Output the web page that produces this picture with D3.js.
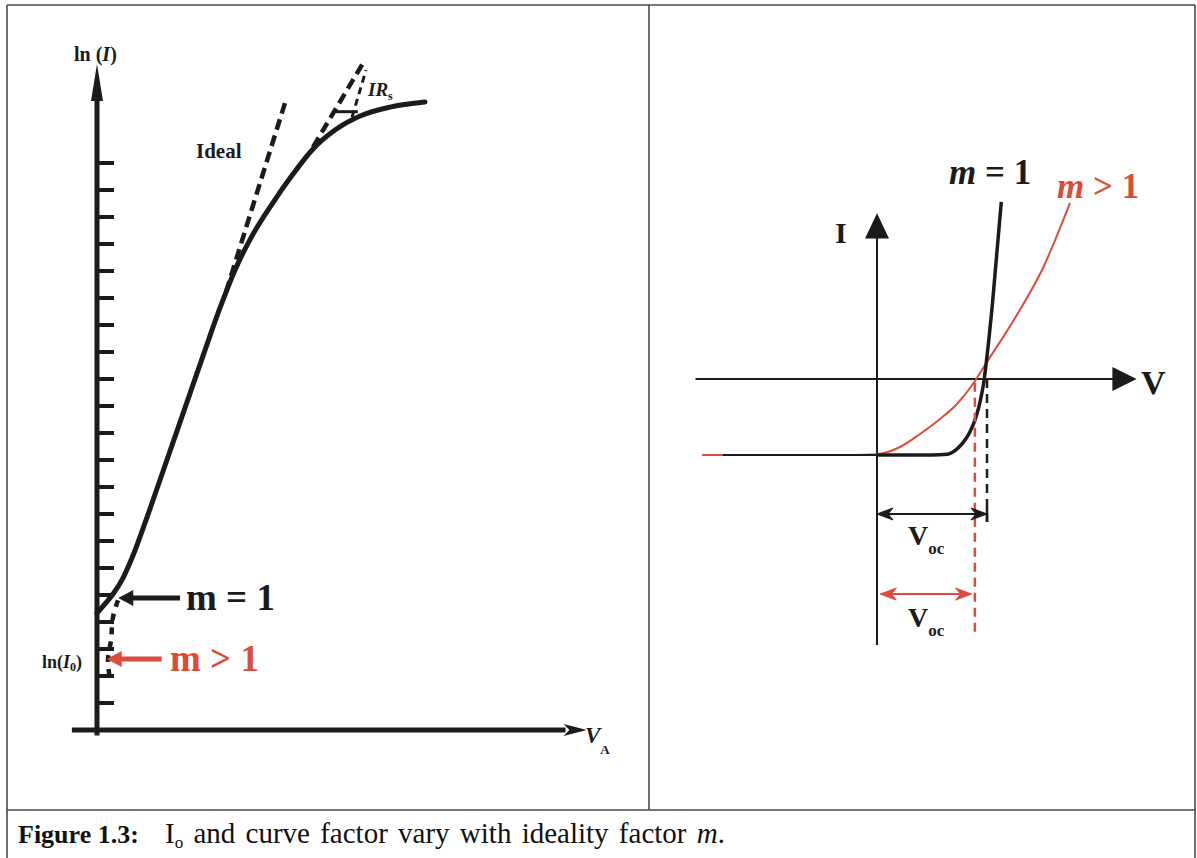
<!DOCTYPE html>
<html><head><meta charset="utf-8">
<script src="https://cdn.jsdelivr.net/npm/d3@7"></script>
<style>body{margin:0;background:#fff}svg{display:block}</style>
</head><body><svg id="c" width="1197" height="858"></svg>
<script>
// ---------- Left panel data: ln(I) vs V_A (arbitrary units) ----------
const leftTicks = [1,2,3,4,5,6,7,8,9,10,11,12,13,14,15,16,17,18,19,20,21];
const measuredV   = [0, 0.83, 1.66, 2.59, 3.62, 4.97, 6.52, 9.11, 11.18, 12.73, 14.29, 16.05, 18.12, 20.29, 22.36, 24.64, 27.23, 30.33, 33.95];
const measuredLnI = [4.33, 4.67, 5.04, 5.56, 6.37, 7.67, 9.26, 11.93, 14.07, 15.63, 17.04, 18.30, 19.48, 20.59, 21.52, 22.22, 22.74, 23.07, 23.26];
const idealV   = [13.35, 19.46];
const idealLnI = [16.22, 23.22];
const irsV   = [22.36, 27.54];
const irsLnI = [21.59, 24.70];
const irsMarkV   = [26.4, 27.85];
const irsMarkLnI = [22.7, 24.44];
const tailV   = [2.17, 1.66, 1.45, 1.14, 1.35];
const tailLnI = [4.81, 4.19, 3.33, 2.59, 1.85];
const m1LnI = 4.89, mGt1LnI = 2.63;

// ---------- Right panel data: I vs V (normalised) ----------
const blackV = [-1.4, 0, 0.5, 0.64, 0.72, 0.78, 0.84, 0.90, 0.94, 0.97, 1.0, 1.05, 1.13];
const blackI = [-1, -1, -1, -0.99, -0.93, -0.84, -0.71, -0.50, -0.28, -0.05, 0.30, 1.0, 2.33];
const redV = [-1.59, -0.2, 0, 0.209, 0.391, 0.573, 0.727, 0.891, 0.982, 1.255, 1.509, 1.755];
const redI = [-1, -1, -0.99, -0.895, -0.724, -0.526, -0.329, -0.026, 0.184, 0.803, 1.461, 2.316];
const vocBlack = 1.0, vocRed = 0.89;

const red = "#dc4b3b", ink = "#1b1b1b";
const svg = d3.select("#c");
svg.append("rect").attr("width",1197).attr("height",858).attr("fill","#fff");

// frame
const frame = svg.append("g").attr("stroke","#4a4a4a").attr("stroke-width",1.6).attr("fill","none");
[[7,5,1195,5],[7,5,7,858],[1195,5,1195,858],[649,5,649,810],[7,810,1195,810]].forEach(d=>
  frame.append("line").attr("x1",d[0]).attr("y1",d[1]).attr("x2",d[2]).attr("y2",d[3]));

// ===== Left panel =====
const xL = d3.scaleLinear().domain([0,50]).range([97,580]);
const yL = d3.scaleLinear().domain([0,1]).range([730,703]);
const L = svg.append("g");
const lineL = d3.line().x(d=>xL(d[0])).y(d=>yL(d[1]));

// axes
L.append("line").attr("x1",xL(0)).attr("x2",xL(0)).attr("y1",yL(-0.2)).attr("y2",yL(23.9))
  .attr("stroke",ink).attr("stroke-width",5);
L.append("path").attr("d",`M${xL(0)},${yL(24.0)-18} L${xL(0)-6},${yL(23.3)} L${xL(0)+6},${yL(23.3)}Z`).attr("fill",ink);
L.append("line").attr("x1",xL(-2.6)).attr("x2",xL(48.5)).attr("y1",yL(0)).attr("y2",yL(0))
  .attr("stroke",ink).attr("stroke-width",5);
L.append("path").attr("d",`M${xL(50.7)},${yL(0)} L${xL(48.3)},${yL(0)-6} L${xL(48.9)},${yL(0)} L${xL(48.3)},${yL(0)+6}Z`).attr("fill",ink);
// ticks
L.selectAll("line.tk").data(leftTicks).join("line").attr("class","tk")
  .attr("x1",xL(0)).attr("x2",xL(0)+17).attr("y1",d=>yL(d)).attr("y2",d=>yL(d))
  .attr("stroke",ink).attr("stroke-width",4);

// curve
L.append("path").datum(measuredV.map((v,i)=>[v,measuredLnI[i]]))
  .attr("d",lineL.curve(d3.curveMonotoneX)).attr("fill","none")
  .attr("stroke",ink).attr("stroke-width",5).attr("stroke-linecap","round");
lineL.curve(d3.curveLinear);
L.append("path").datum(idealV.map((v,i)=>[v,idealLnI[i]])).attr("d",lineL)
  .attr("stroke",ink).attr("stroke-width",4.5).attr("stroke-dasharray","11,6").attr("fill","none");
L.append("path").datum(irsV.map((v,i)=>[v,irsLnI[i]])).attr("d",lineL)
  .attr("stroke",ink).attr("stroke-width",4.5).attr("stroke-dasharray","11,6").attr("fill","none");
L.append("path").datum(irsMarkV.map((v,i)=>[v,irsMarkLnI[i]])).attr("d",lineL)
  .attr("stroke",ink).attr("stroke-width",3).attr("stroke-dasharray","7,5").attr("fill","none");
L.append("line").attr("x1",xL(24.6)).attr("x2",xL(27.0)).attr("y1",yL(22.9)).attr("y2",yL(22.9))
  .attr("stroke",ink).attr("stroke-width",3);
L.append("path").datum(tailV.map((v,i)=>[v,tailLnI[i]])).attr("d",lineL.curve(d3.curveCatmullRom))
  .attr("stroke",ink).attr("stroke-width",4.5).attr("stroke-dasharray","7,7").attr("fill","none");

// arrows to the intercepts
function arrowLeft(g, v0, v1, lnI, col){
  const y = yL(lnI);
  g.append("line").attr("x1",xL(v0)+12).attr("x2",xL(v1)).attr("y1",y).attr("y2",y)
    .attr("stroke",col).attr("stroke-width",5);
  g.append("path").attr("d",`M${xL(v0)},${y} L${xL(v0)+15},${y-8} L${xL(v0)+15},${y+8}Z`).attr("fill",col);
}
arrowLeft(L, 2.2, 8.6, m1LnI, ink);
arrowLeft(L, 1.0, 6.7, mGt1LnI, red);

// left labels
const serif = "'Liberation Serif','Times New Roman',serif";
function txt(g,x,y,size,col){ return g.append("text").attr("x",x).attr("y",y)
  .attr("font-family",serif).attr("font-weight","bold").attr("font-size",size).attr("fill",col); }
let t = txt(L,xL(0)-23,61,20,ink); t.append("tspan").text("ln ("); t.append("tspan").attr("font-style","italic").text("I"); t.append("tspan").text(")");
txt(L,196,158,21,ink).text("Ideal");
t = txt(L,368,96,19,ink); t.append("tspan").attr("font-style","italic").text("IR"); t.append("tspan").attr("font-size",12).attr("dy",4).text("s");
t = txt(L,42,668,18,ink); t.append("tspan").text("ln("); t.append("tspan").attr("font-style","italic").text("I");
t.append("tspan").attr("font-size",12).attr("dy",3).text("0"); t.append("tspan").attr("dy",-3).text(")");
txt(L,186,610,37,ink).text("m = 1");
txt(L,170,671,37,red).text("m > 1");
t = txt(L,585,743,23,ink); t.append("tspan").attr("font-style","italic").text("V"); t.append("tspan").attr("font-size",13).attr("dy",11).text("A");

// ===== Right panel =====
const xR = d3.scaleLinear().domain([0,1]).range([877,987]);
const yR = d3.scaleLinear().domain([0,-1]).range([379,455]);
const R = svg.append("g");
const lineR = d3.line().x(d=>xR(d[0])).y(d=>yR(d[1])).curve(d3.curveMonotoneX);

// axes
R.append("line").attr("x1",xR(-1.65)).attr("x2",xR(2.2)).attr("y1",yR(0)).attr("y2",yR(0)).attr("stroke",ink).attr("stroke-width",2);
R.append("path").attr("d",`M${xR(2.36)},${yR(0)} L${xR(2.14)},${yR(0)-12} L${xR(2.14)},${yR(0)+12}Z`).attr("fill",ink);
R.append("line").attr("x1",xR(0)).attr("x2",xR(0)).attr("y1",yR(-3.5)).attr("y2",yR(1.9)).attr("stroke",ink).attr("stroke-width",2);
R.append("path").attr("d",`M${xR(0)},${yR(2.18)} L${xR(0)-12},${yR(1.85)} L${xR(0)+12},${yR(1.85)}Z`).attr("fill",ink);

// curves
R.append("path").datum(redV.map((v,i)=>[v,redI[i]])).attr("d",lineR).attr("fill","none").attr("stroke",red).attr("stroke-width",2);
R.append("path").datum(blackV.map((v,i)=>[v,blackI[i]]).filter(d=>d[0]<=0)).attr("d",lineR).attr("fill","none").attr("stroke",ink).attr("stroke-width",2);
R.append("path").datum(blackV.map((v,i)=>[v,blackI[i]]).filter(d=>d[0]>=0)).attr("d",lineR).attr("fill","none").attr("stroke",ink).attr("stroke-width",3.5);

// Voc dashed lines
R.append("line").attr("x1",xR(vocBlack)).attr("x2",xR(vocBlack)).attr("y1",yR(0)).attr("y2",yR(-1.88)).attr("stroke",ink).attr("stroke-width",2.5).attr("stroke-dasharray","9,6");
R.append("line").attr("x1",xR(vocRed)).attr("x2",xR(vocRed)).attr("y1",yR(-0.05)).attr("y2",yR(-3.33)).attr("stroke",red).attr("stroke-width",2.5).attr("stroke-dasharray","9,6");

function dbl(g, v0, v1, I, col){
  const y = yR(I), a = xR(v0), b = xR(v1);
  g.append("line").attr("x1",a+6).attr("x2",b-6).attr("y1",y).attr("y2",y).attr("stroke",col).attr("stroke-width",2);
  g.append("path").attr("d",`M${a},${y} L${a+16},${y-6} L${a+11},${y} L${a+16},${y+6}Z`).attr("fill",col).attr("stroke",col).attr("stroke-width",1);
  g.append("path").attr("d",`M${b},${y} L${b-16},${y-6} L${b-11},${y} L${b-16},${y+6}Z`).attr("fill",col).attr("stroke",col).attr("stroke-width",1);
}
dbl(R, 0, vocBlack, -1.776, ink);
R.append("line").attr("x1",xR(vocBlack)).attr("x2",xR(vocBlack)).attr("y1",yR(-1.69)).attr("y2",yR(-1.88)).attr("stroke",ink).attr("stroke-width",2.5);
dbl(R, 0.03, 0.86, -2.83, red);

// right labels
t = txt(R,908,545,28,ink); t.append("tspan").text("V"); t.append("tspan").attr("font-size",17).attr("dy",9).text("oc");
t = txt(R,908,627,28,ink); t.append("tspan").text("V"); t.append("tspan").attr("font-size",17).attr("dy",9).text("oc");
txt(R,835,243,30,ink).text("I");
txt(R,1141,394,34,ink).text("V");
t = txt(R,949,184,35,ink); t.append("tspan").attr("font-style","italic").text("m"); t.append("tspan").text(" = 1");
t = txt(R,1057,198,35,red); t.append("tspan").attr("font-style","italic").text("m"); t.append("tspan").text(" > 1");

// caption
const cap = svg.append("text").attr("x",18).attr("y",843).attr("font-family",serif).attr("font-size",29).attr("fill","#111").attr("word-spacing",3);
cap.append("tspan").attr("font-weight","bold").attr("font-size",26).attr("word-spacing",0).text("Figure 1.3:");
cap.append("tspan").attr("x",165).text("I");
cap.append("tspan").attr("font-size",17).attr("dy",5).text("o");
cap.append("tspan").attr("dy",-5).text(" and curve factor vary with ideality factor ");
cap.append("tspan").attr("font-style","italic").text("m");
cap.append("tspan").text(".");
</script></body></html>
